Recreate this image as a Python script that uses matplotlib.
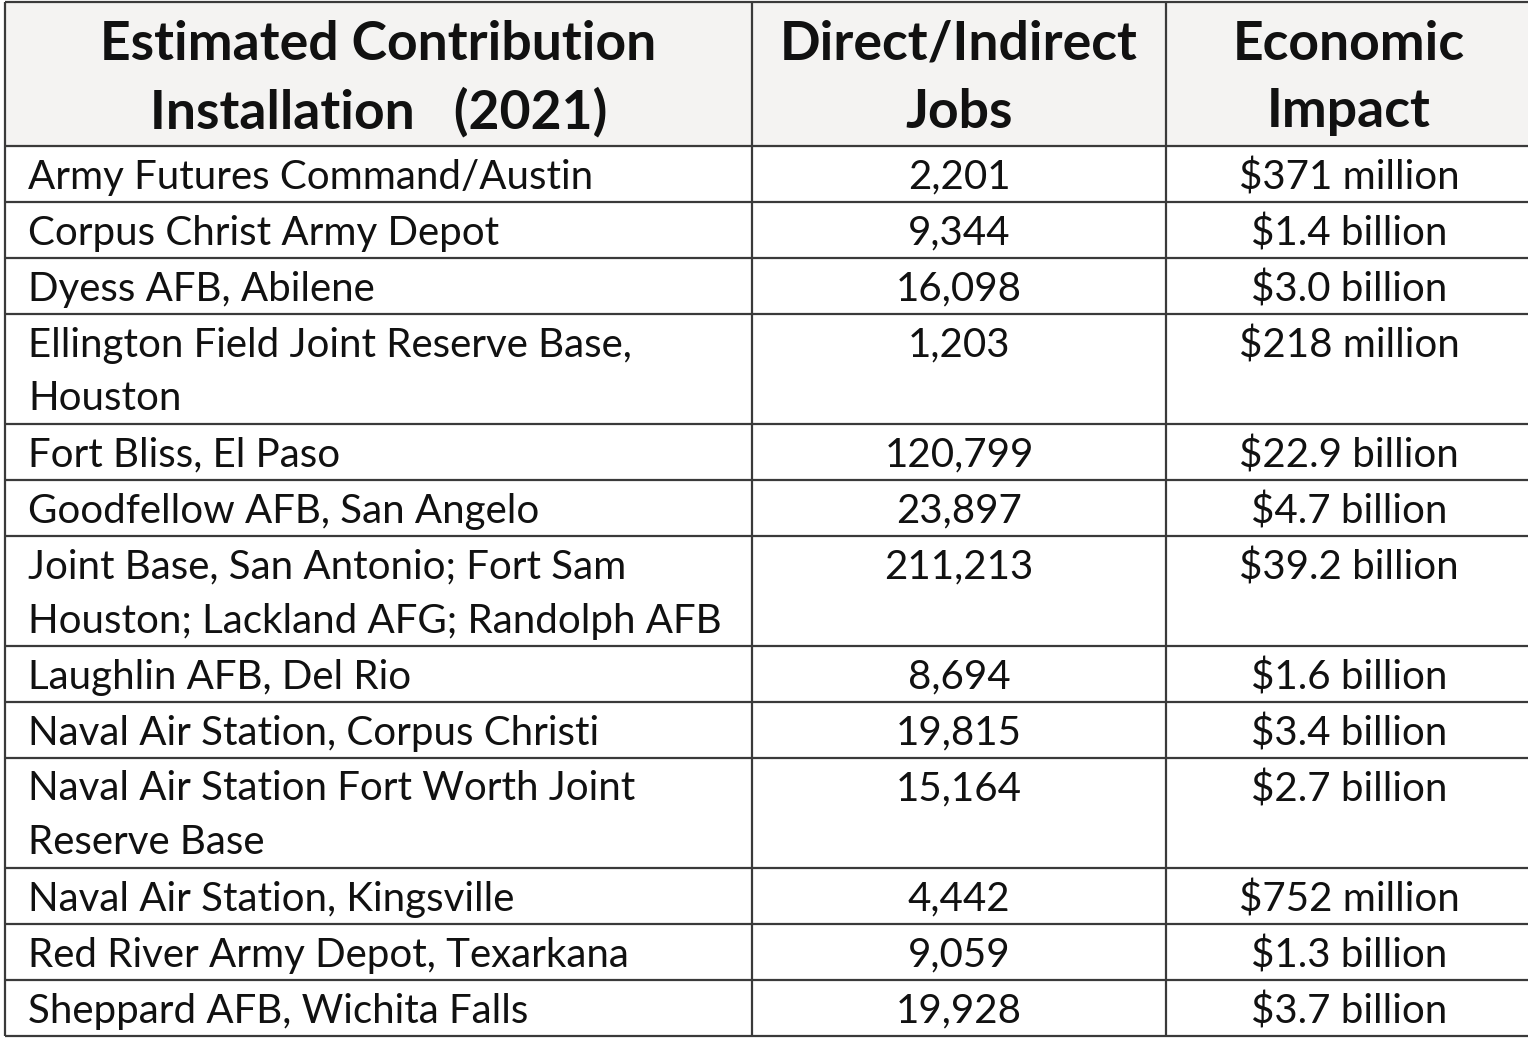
import matplotlib
matplotlib.use("Agg")
import matplotlib.pyplot as plt

header = ["Estimated Contribution\nInstallation   (2021)", "Direct/Indirect\nJobs", "Economic\nImpact"]
installations = [
    "Army Futures Command/Austin",
    "Corpus Christ Army Depot",
    "Dyess AFB, Abilene",
    "Ellington Field Joint Reserve Base,\nHouston",
    "Fort Bliss, El Paso",
    "Goodfellow AFB, San Angelo",
    "Joint Base, San Antonio; Fort Sam\nHouston; Lackland AFG; Randolph AFB",
    "Laughlin AFB, Del Rio",
    "Naval Air Station, Corpus Christi",
    "Naval Air Station Fort Worth Joint\nReserve Base",
    "Naval Air Station, Kingsville",
    "Red River Army Depot, Texarkana",
    "Sheppard AFB, Wichita Falls",
]
jobs = ["2,201", "9,344", "16,098", "1,203", "120,799", "23,897", "211,213",
        "8,694", "19,815", "15,164", "4,442", "9,059", "19,928"]
impact = ["$371 million", "$1.4 billion", "$3.0 billion", "$218 million",
          "$22.9 billion", "$4.7 billion", "$39.2 billion", "$1.6 billion",
          "$3.4 billion", "$2.7 billion", "$752 million", "$1.3 billion",
          "$3.7 billion"]

W, H = 1528, 1038
fig = plt.figure(figsize=(W / 100, H / 100), dpi=100)
ax = fig.add_axes([0, 0, 1, 1])
ax.set_xlim(0, W)
ax.set_ylim(H, 0)
ax.axis("off")

FONT = "Lato"
line_color = "#3a3a3a"
lw = 1.6
col_x = [5, 752, 1166, W + 5]
top = 2
header_h = 144
line_h = 54
body_fs = 29
head_fs = 38.5

# header background
ax.fill_between([col_x[0], W], top, top + header_h, color="#f4f3f2", zorder=0)
hc = [(col_x[i] + col_x[i + 1]) / 2 for i in range(3)]
hc[2] = 1349
for i, h in enumerate(header):
    for k, part in enumerate(h.split("\n")):
        ax.text(hc[i], top + 42 + k * 68, part, ha="center", va="center",
                fontsize=head_fs, fontweight="bold", family=FONT, color="#111111")

# rows
y = top + header_h
ys = [top, y]
for name, j, m in zip(installations, jobs, impact):
    n = name.count("\n") + 1
    for k, part in enumerate(name.split("\n")):
        ax.text(28, y + 31 + k * line_h, part, ha="left", va="center",
                fontsize=body_fs, family=FONT, color="#111111")
    ax.text(959, y + 31, j, ha="center", va="center", fontsize=body_fs, family=FONT, color="#111111")
    ax.text(1349, y + 31, m, ha="center", va="center", fontsize=body_fs, family=FONT, color="#111111")
    y += 2 + line_h * n
    ys.append(y)

for yy in ys:
    ax.plot([col_x[0], W], [yy, yy], color=line_color, lw=lw, solid_capstyle="butt")
for xx in col_x[:3]:
    ax.plot([xx, xx], [top, ys[-1]], color=line_color, lw=lw, solid_capstyle="butt")

fig.savefig("out.png", dpi=100, facecolor="white")
